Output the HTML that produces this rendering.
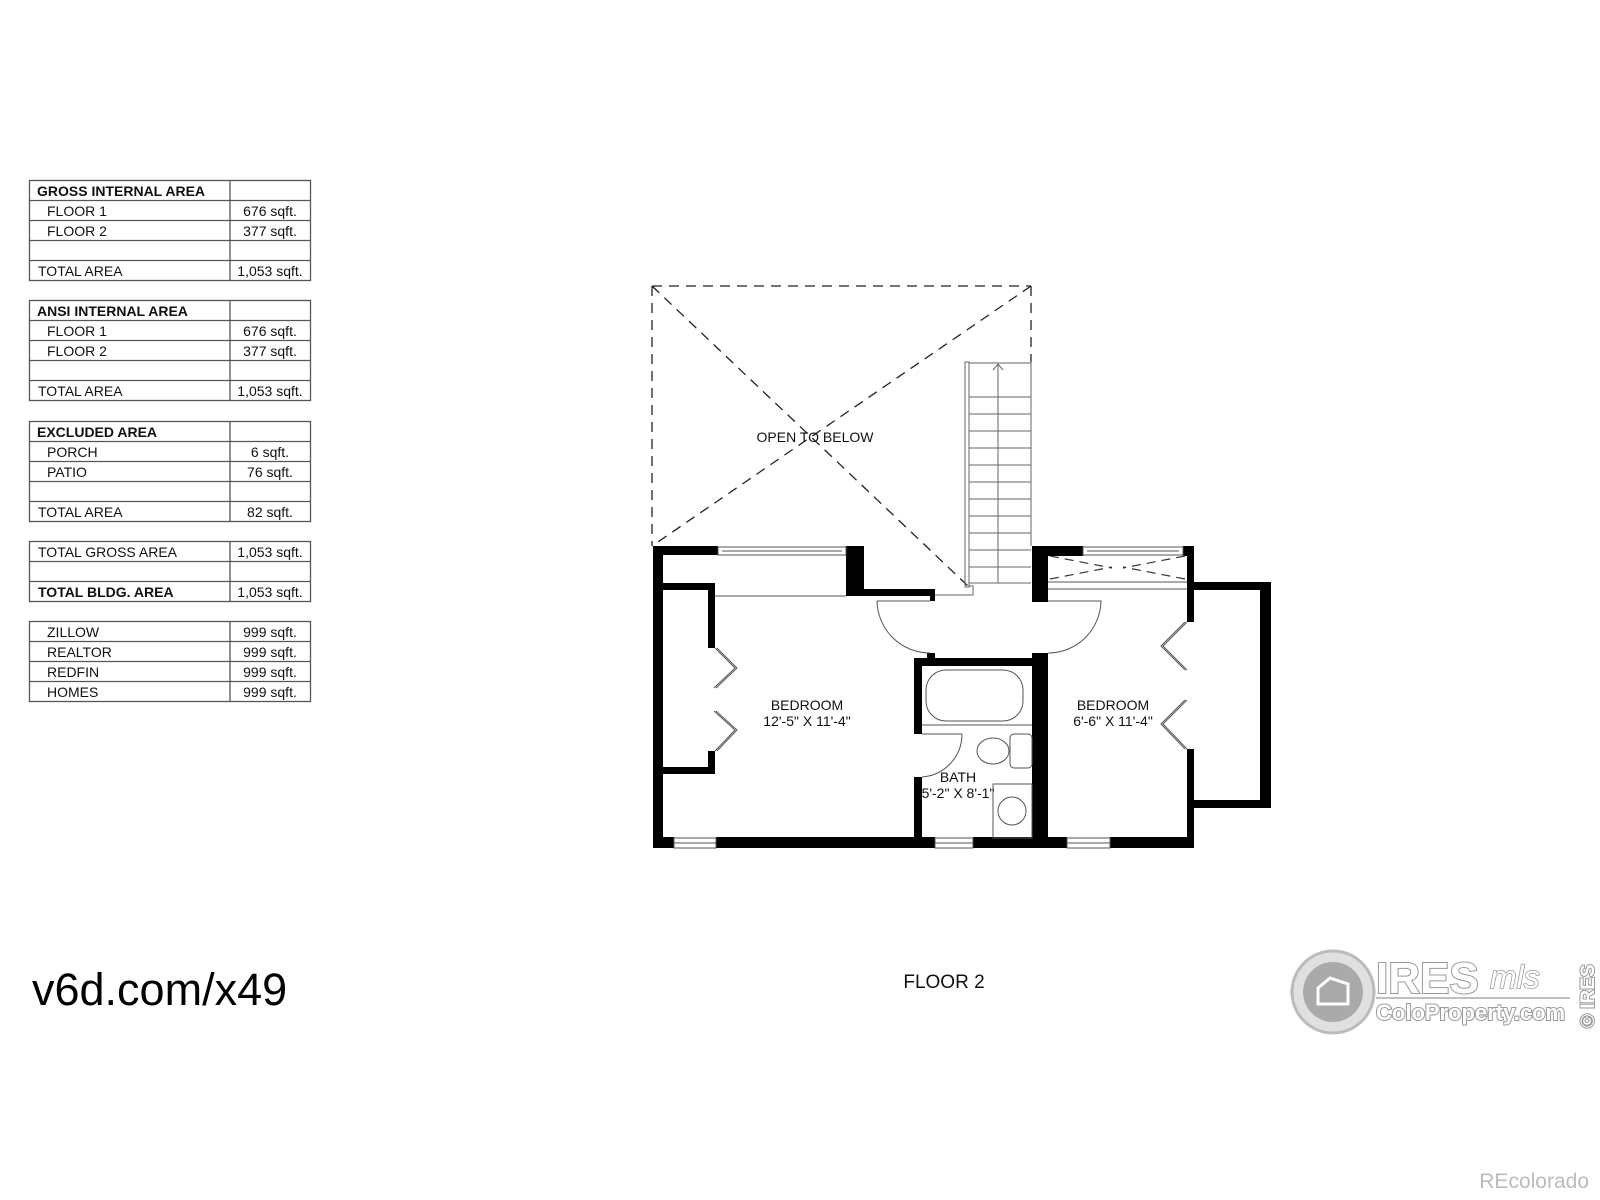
<!DOCTYPE html>
<html><head><meta charset="utf-8"><style>
html,body{margin:0;padding:0;background:#fff;}
svg{display:block}
text{font-family:"Liberation Sans",Arial,sans-serif;}
</style></head><body>
<svg width="1600" height="1200" viewBox="0 0 1600 1200" xmlns="http://www.w3.org/2000/svg">
<rect width="1600" height="1200" fill="#fff"/>

<!-- TABLES -->
<g stroke="#555" stroke-width="1.3" fill="none">
  <rect x="29.5" y="180.5" width="281" height="100"/>
  <line x1="29" y1="200.5" x2="310" y2="200.5"/><line x1="29" y1="220.5" x2="310" y2="220.5"/>
  <line x1="29" y1="240.5" x2="310" y2="240.5"/><line x1="29" y1="260.5" x2="310" y2="260.5"/>
  <line x1="230" y1="180" x2="230" y2="280"/>

  <rect x="29.5" y="300.5" width="281" height="100"/>
  <line x1="29" y1="320.5" x2="310" y2="320.5"/><line x1="29" y1="340.5" x2="310" y2="340.5"/>
  <line x1="29" y1="360.5" x2="310" y2="360.5"/><line x1="29" y1="380.5" x2="310" y2="380.5"/>
  <line x1="230" y1="300" x2="230" y2="400"/>

  <rect x="29.5" y="421.5" width="281" height="100"/>
  <line x1="29" y1="441.5" x2="310" y2="441.5"/><line x1="29" y1="461.5" x2="310" y2="461.5"/>
  <line x1="29" y1="481.5" x2="310" y2="481.5"/><line x1="29" y1="501.5" x2="310" y2="501.5"/>
  <line x1="230" y1="421" x2="230" y2="521"/>

  <rect x="29.5" y="541.5" width="281" height="60"/>
  <line x1="29" y1="561.5" x2="310" y2="561.5"/><line x1="29" y1="581.5" x2="310" y2="581.5"/>
  <line x1="230" y1="541" x2="230" y2="601"/>

  <rect x="29.5" y="621.5" width="281" height="80"/>
  <line x1="29" y1="641.5" x2="310" y2="641.5"/><line x1="29" y1="661.5" x2="310" y2="661.5"/>
  <line x1="29" y1="681.5" x2="310" y2="681.5"/>
  <line x1="230" y1="621" x2="230" y2="701"/>
</g>
<g font-size="14" fill="#111">
  <text x="37" y="196" font-weight="bold">GROSS INTERNAL AREA</text>
  <text x="47" y="216">FLOOR 1</text><text x="270" y="216" text-anchor="middle">676 sqft.</text>
  <text x="47" y="236">FLOOR 2</text><text x="270" y="236" text-anchor="middle">377 sqft.</text>
  <text x="38" y="276">TOTAL AREA</text><text x="270" y="276" text-anchor="middle">1,053 sqft.</text>

  <text x="37" y="316" font-weight="bold">ANSI INTERNAL AREA</text>
  <text x="47" y="336">FLOOR 1</text><text x="270" y="336" text-anchor="middle">676 sqft.</text>
  <text x="47" y="356">FLOOR 2</text><text x="270" y="356" text-anchor="middle">377 sqft.</text>
  <text x="38" y="396">TOTAL AREA</text><text x="270" y="396" text-anchor="middle">1,053 sqft.</text>

  <text x="37" y="437" font-weight="bold">EXCLUDED AREA</text>
  <text x="47" y="457">PORCH</text><text x="270" y="457" text-anchor="middle">6 sqft.</text>
  <text x="47" y="477">PATIO</text><text x="270" y="477" text-anchor="middle">76 sqft.</text>
  <text x="38" y="517">TOTAL AREA</text><text x="270" y="517" text-anchor="middle">82 sqft.</text>

  <text x="38" y="557">TOTAL GROSS AREA</text><text x="270" y="557" text-anchor="middle">1,053 sqft.</text>
  <text x="38" y="597" font-weight="bold">TOTAL BLDG. AREA</text><text x="270" y="597" text-anchor="middle">1,053 sqft.</text>

  <text x="47" y="637">ZILLOW</text><text x="270" y="637" text-anchor="middle">999 sqft.</text>
  <text x="47" y="657">REALTOR</text><text x="270" y="657" text-anchor="middle">999 sqft.</text>
  <text x="47" y="677">REDFIN</text><text x="270" y="677" text-anchor="middle">999 sqft.</text>
  <text x="47" y="697">HOMES</text><text x="270" y="697" text-anchor="middle">999 sqft.</text>
</g>

<!-- OPEN TO BELOW -->
<g stroke="#222" stroke-width="1.3" fill="none" stroke-dasharray="10,7">
  <line x1="652" y1="286" x2="1031" y2="286"/>
  <line x1="652" y1="286" x2="652" y2="546"/>
  <line x1="1031" y1="286" x2="1031" y2="362"/>
  <line x1="652" y1="286" x2="968" y2="586"/>
  <line x1="1031" y1="286" x2="652" y2="546"/>
</g>
<text x="815" y="442" font-size="14" text-anchor="middle" fill="#111">OPEN TO BELOW</text>

<!-- STAIRS -->
<g stroke="#666" stroke-width="1" fill="none">
  <rect x="965" y="362" width="4" height="225"/>
  <line x1="969" y1="363" x2="1031" y2="363"/>
  <line x1="969" y1="583" x2="1031" y2="583"/>
  <line x1="1031" y1="362" x2="1031" y2="546"/>
  <line x1="998" y1="364" x2="998" y2="583"/>
  <polyline points="993,370 998,364 1003,370"/>
  <path d="M969 397H1031M969 414H1031M969 431H1031M969 448H1031M969 465H1031M969 482H1031M969 499H1031M969 516H1031M969 533H1031M969 550H1031M969 567H1031"/>
  <polyline points="969,586 973,586 973,595 935,595"/>
</g>

<!-- WALLS -->
<g fill="#000">
  <rect x="653" y="546" width="10" height="302"/>
  <rect x="653" y="546" width="65" height="9"/>
  <rect x="846" y="546" width="18" height="50"/>
  <rect x="846" y="589" width="89" height="7"/>
  <rect x="930" y="589" width="5" height="12"/>
  <rect x="663" y="583" width="52" height="7"/>
  <rect x="708" y="583" width="7" height="65"/>
  <rect x="708" y="751" width="7" height="23"/>
  <rect x="663" y="767" width="52" height="7"/>
  <rect x="653" y="837" width="21" height="11"/>
  <rect x="716" y="837" width="219" height="11"/>
  <rect x="973" y="837" width="94" height="11"/>
  <rect x="1110" y="837" width="84" height="11"/>
  <rect x="914" y="658" width="8" height="76"/>
  <rect x="914" y="777" width="8" height="71"/>
  <rect x="914" y="658" width="118" height="8"/>
  <rect x="927" y="653" width="8" height="6"/>
  <rect x="1032" y="653" width="16" height="195"/>
  <rect x="1032" y="546" width="16" height="56"/>
  <rect x="1032" y="546" width="51" height="10"/>
  <rect x="1183" y="546" width="11" height="10"/>
  <rect x="1187" y="546" width="7" height="76"/>
  <rect x="1187" y="749" width="7" height="99"/>
  <rect x="1194" y="582" width="77" height="8"/>
  <rect x="1260" y="582" width="11" height="226"/>
  <rect x="1194" y="800" width="77" height="8"/>
</g>

<g fill="#fff" stroke="#555" stroke-width="1">
  <rect x="718" y="547" width="128" height="8"/>
  <line x1="722" y1="551" x2="842" y2="551"/>
  <rect x="1083" y="547" width="100" height="8"/>
  <line x1="1087" y1="551" x2="1179" y2="551"/>
  <rect x="674" y="838" width="42" height="10"/>
  <line x1="674" y1="843" x2="716" y2="843"/>
  <rect x="935" y="838" width="38" height="10"/>
  <line x1="935" y1="843" x2="973" y2="843"/>
  <rect x="1067" y="838" width="43" height="10"/>
  <line x1="1067" y1="843" x2="1110" y2="843"/>
</g>

<g stroke="#555" stroke-width="1" fill="none">
  <line x1="715" y1="596" x2="846" y2="596"/>
  <line x1="1048" y1="582" x2="1187" y2="582"/>
  <line x1="1048" y1="589" x2="1187" y2="589"/>
  <path d="M877 601H930 M877 601 A53 53 0 0 0 930 653"/>
  <path d="M1048 601H1101V603 M1101 601 A53 53 0 0 1 1048 653"/>
  <path d="M922 734H962 M962 734 A43 43 0 0 1 922 777"/>
  <polyline points="715,648 735,668 714,688"/>
  <polyline points="717,648 737,668 716,688"/>
  <polyline points="714,711 735,730 715,751"/>
  <polyline points="716,711 737,730 717,751"/>
  <polyline points="1187,622 1163,646 1187,670"/>
  <polyline points="1185,622 1161,646 1185,670"/>
  <polyline points="1187,700 1163,724 1187,749"/>
  <polyline points="1185,700 1161,724 1185,749"/>
  <rect x="926" y="670" width="97" height="51" rx="20"/>
  <line x1="922" y1="725" x2="1032" y2="725"/>
  <rect x="1010" y="734" width="22" height="34" rx="4"/>
  <ellipse cx="993" cy="751" rx="16" ry="13"/>
  <rect x="993" y="784" width="39" height="54"/>
  <circle cx="1012" cy="811" r="14"/>
</g>
<g stroke="#333" stroke-width="1.2" fill="none" stroke-dasharray="9,6">
  <line x1="1050" y1="556" x2="1112" y2="568"/>
  <line x1="1050" y1="579" x2="1112" y2="567"/>
  <line x1="1185" y1="556" x2="1123" y2="568"/>
  <line x1="1185" y1="579" x2="1123" y2="567"/>
</g>

<g font-size="14" fill="#111" text-anchor="middle">
  <text x="807" y="710">BEDROOM</text>
  <text x="807" y="726">12'-5" X 11'-4"</text>
  <text x="1113" y="710">BEDROOM</text>
  <text x="1113" y="726">6'-6" X 11'-4"</text>
  <text x="958" y="782">BATH</text>
  <text x="958" y="798">5'-2" X 8'-1"</text>
  <text x="944" y="988" font-size="19">FLOOR 2</text>
</g>

<text x="32" y="1005" font-size="45" fill="#000">v6d.com/x49</text>

<!-- IRES logo -->
<g>
  <circle cx="1333" cy="992" r="41" fill="#e0e0e0" stroke="#bbb" stroke-width="3"/>
  <circle cx="1333" cy="992" r="30" fill="#aaa"/>
  <path d="M1318 1004V988L1330 978L1348 984V1004Z" fill="none" stroke="#fff" stroke-width="3"/>
  <text x="1376" y="993" font-size="44" font-weight="bold" fill="#fff" stroke="#999" stroke-width="2" paint-order="stroke">IRES</text>
  <text x="1490" y="988" font-size="32" font-style="italic" fill="#fff" stroke="#999" stroke-width="1.5" font-family="Liberation Serif" paint-order="stroke">mls</text>
  <line x1="1376" y1="998" x2="1570" y2="998" stroke="#aaa" stroke-width="1.5"/>
  <text x="1376" y="1020" font-size="22" font-weight="bold" fill="#fff" stroke="#999" stroke-width="2" paint-order="stroke">ColoProperty.com</text>
  <text transform="translate(1594,1028) rotate(-90)" font-size="19" font-weight="bold" fill="#fff" stroke="#999" stroke-width="2" paint-order="stroke">© IRES</text>
</g>

<text x="1589" y="1188" font-size="21" fill="#bbb" text-anchor="end">REcolorado</text>
</svg>
</body></html>
